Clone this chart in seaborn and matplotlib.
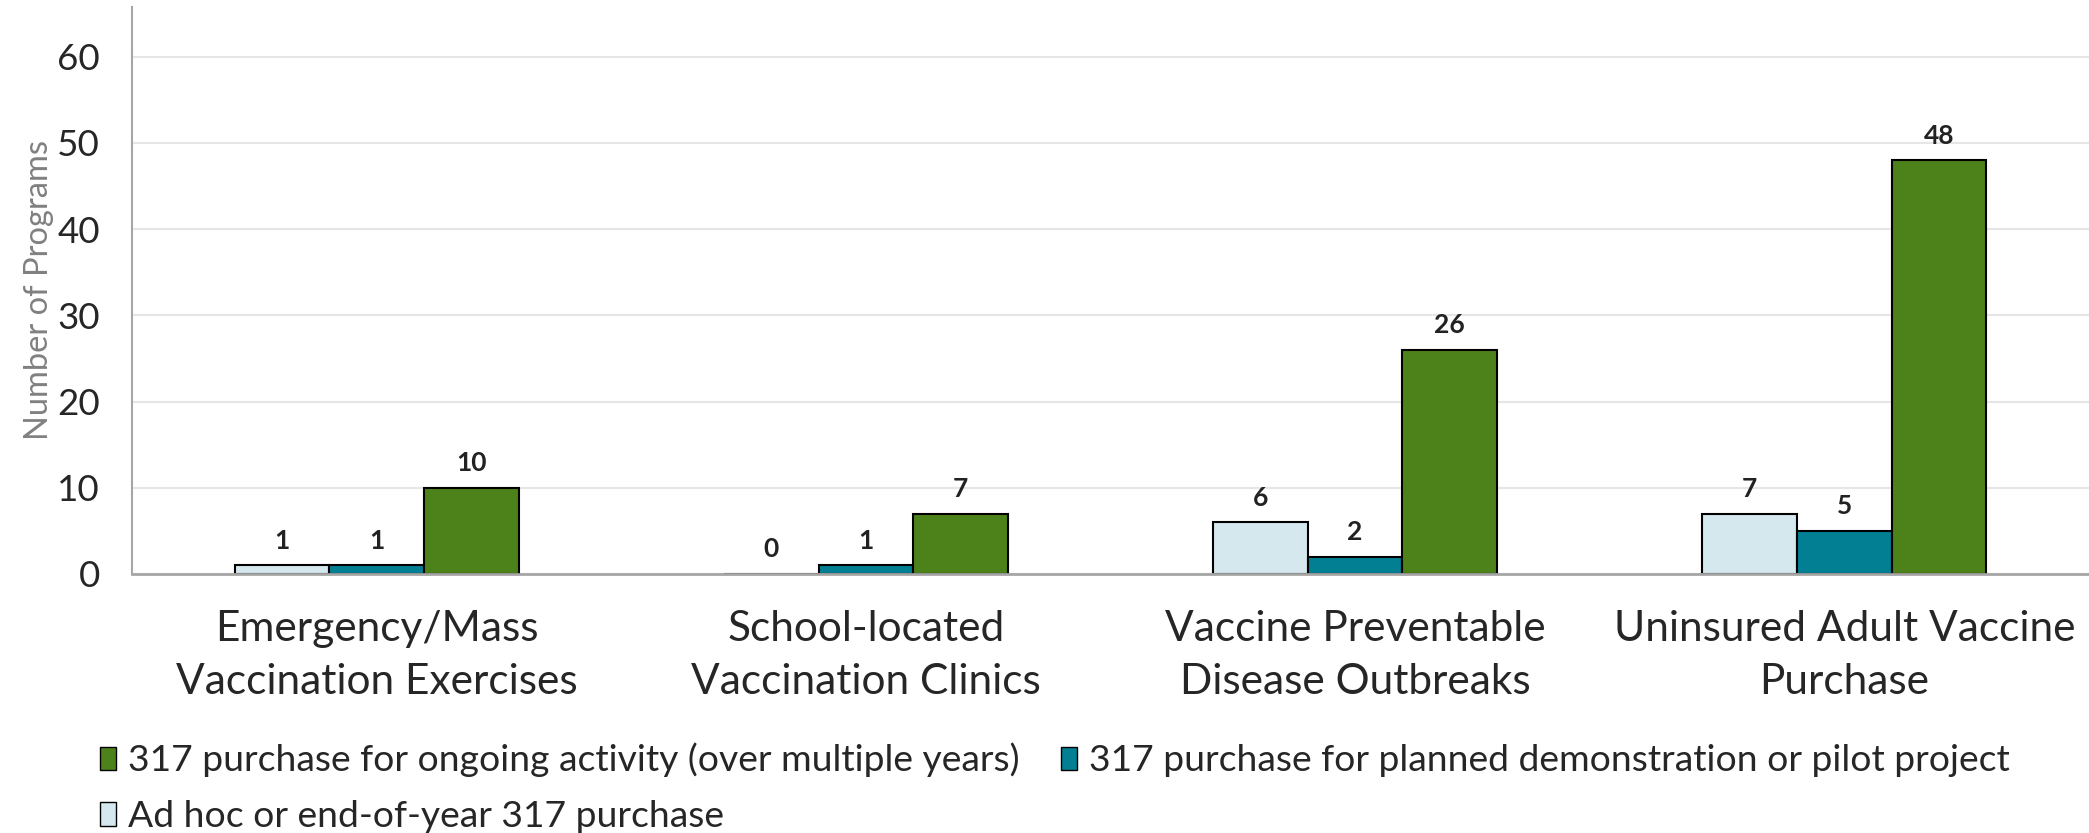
import pandas as pd
import matplotlib.pyplot as plt
import seaborn as sns
from matplotlib.patches import Patch

# --- datos ---
categorias = ['Emergency/Mass\nVaccination Exercises',
              'School-located\nVaccination Clinics',
              'Vaccine Preventable\nDisease Outbreaks',
              'Uninsured Adult Vaccine\nPurchase']
series = ['Ad hoc or end-of-year 317 purchase',
          '317 purchase for planned demonstration or pilot project',
          '317 purchase for ongoing activity (over multiple years)']
ad_hoc = [1, 0, 6, 7]
planned = [1, 1, 2, 5]
ongoing = [10, 7, 26, 48]
colores = ['#D5E8EE', '#037F93', '#4D821B']

df = pd.DataFrame({
    'Category': categorias * 3,
    'Type': [series[0]] * 4 + [series[1]] * 4 + [series[2]] * 4,
    'Programs': ad_hoc + planned + ongoing,
})

sns.set_theme(style="white")
plt.rcParams['font.family'] = ['Lato', 'DejaVu Sans']

fig = plt.figure(figsize=(20.89, 8.33), dpi=100)
ax = fig.add_axes([0.0632, 0.311, 0.9368, 0.681])

sns.barplot(data=df, x='Category', y='Programs', hue='Type', hue_order=series,
            order=categorias, palette=colores, width=0.58, edgecolor='black',
            linewidth=1.5, ax=ax, legend=False, saturation=1)

# etiquetas de valor encima de cada barra
for cont in ax.containers:
    for bar in cont:
        h = bar.get_height()
        ax.annotate(f'{int(h)}', (bar.get_x() + bar.get_width() / 2, h),
                    xytext=(0, 9), textcoords='offset points',
                    ha='center', va='bottom', fontsize=19, fontweight='bold', color='#222222')

ax.set_xlim(-0.5, 3.5)
ax.set_ylim(0, 65.8)
ax.set_yticks([0, 10, 20, 30, 40, 50, 60])
ax.tick_params(axis='y', labelsize=26.5, length=9, width=1.5, color='#A6A6A6', pad=14)
ax.set_xticks([0.5, 1.5, 2.5], minor=True)
ax.tick_params(axis='x', which='major', length=0, labelsize=30.5, pad=26)
ax.tick_params(axis='x', which='minor', length=12, width=1.5, color='#BFBFBF')
for lbl in ax.get_xticklabels():
    lbl.set_linespacing(1.47)
ax.set_xlabel('')
ax.set_ylabel('Number of Programs', fontsize=23.5, color='#808080', labelpad=2)
ax.yaxis.grid(True, color='#E6E6E6', linewidth=1.5)
ax.set_axisbelow(True)
for s in ['top', 'right']:
    ax.spines[s].set_visible(False)
ax.spines['left'].set_color('#A6A6A6')
ax.spines['left'].set_linewidth(1.5)
ax.spines['bottom'].set_color('#A6A6A6')
ax.spines['bottom'].set_linewidth(2)

# leyenda: fila 1 verde y azul, fila 2 celeste
orden = [2, 0, 1]
handles = [Patch(facecolor=colores[i], edgecolor='black', linewidth=1, label=series[i]) for i in orden]
fig.legend(handles=handles, loc='lower left', bbox_to_anchor=(0.0316, -0.04), ncol=2,
           frameon=False, fontsize=26.8, handlelength=0.45, handleheight=0.6,
           handletextpad=0.32, columnspacing=1.1, labelspacing=0.6)

plt.savefig('out.png', dpi=100)
